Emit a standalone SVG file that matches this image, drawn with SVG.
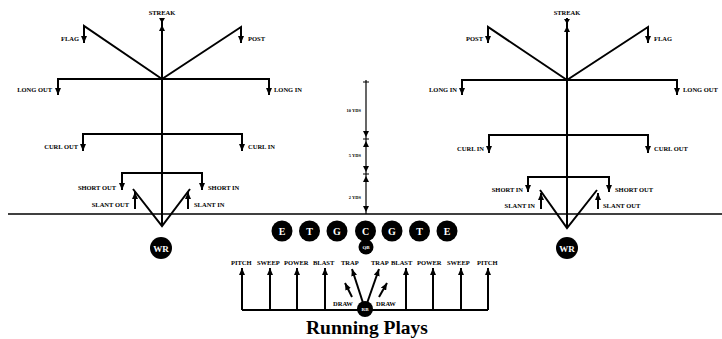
<svg xmlns="http://www.w3.org/2000/svg" width="722" height="339" viewBox="0 0 722 339">
<defs>
<marker id="ah" viewBox="0 0 7 6" refX="7" refY="3" markerWidth="7" markerHeight="6" markerUnits="userSpaceOnUse" orient="auto"><path d="M0,0 L7,3 L0,6 z" fill="#000"/></marker>
<marker id="sh" viewBox="0 0 5 4" refX="5" refY="2" markerWidth="5" markerHeight="4" markerUnits="userSpaceOnUse" orient="auto"><path d="M0,0 L5,2 L0,4 z" fill="#000"/></marker>
</defs>
<style>
.r{fill:none;stroke:#000;stroke-width:2}
.a{fill:none;stroke:#000;stroke-width:2;marker-end:url(#ah)}
.t{fill:none;stroke:#000;stroke-width:1.2}
.l{font-family:"Liberation Serif",serif;font-weight:bold;font-size:6.5px;fill:#000}
.e{text-anchor:end}
.m{text-anchor:middle}
.y{font-family:"Liberation Serif",serif;font-weight:bold;font-size:4.5px;fill:#000;text-anchor:end}
.p{fill:#000}
.w{font-family:"Liberation Serif",serif;font-weight:bold;fill:#fff;text-anchor:middle}
</style>
<rect width="722" height="339" fill="#fff"/>

<g id="scrimmage"><line x1="8" y1="214" x2="722" y2="214" stroke="#000" stroke-width="1.6"/></g>

<g id="connectors">
<!-- left route tree -->
<path class="r" d="M162,226 L162,18"/>
<polygon class="p" points="159,18 165,18 162,23"/>
<polygon class="p" points="162,25 159,31 165,31"/>
<path class="a" d="M162,79 L84,26 L84,43"/>
<path class="a" d="M162,79 L241,27 L241,43"/>
<path class="a" d="M162,79 L58,79 L58,95"/>
<path class="a" d="M162,79 L269,79 L269,95"/>
<path class="a" d="M162,134 L83,134 L83,151"/>
<path class="a" d="M162,134 L242,134 L242,151"/>
<path class="a" d="M162,173 L122,173 L122,190"/>
<path class="a" d="M162,173 L202,173 L202,190"/>
<path class="r" d="M133,189 L162,226 L190,189"/>
<path class="a" d="M135,209 L135,192"/>
<path class="a" d="M188,209 L188,192"/>
<!-- right route tree -->
<path class="r" d="M567,228 L567,18"/>
<polygon class="p" points="564,19 570,19 567,24"/>
<polygon class="p" points="567,26 564,32 570,32"/>
<path class="a" d="M567,80 L488,27 L488,43"/>
<path class="a" d="M567,80 L648,27 L648,43"/>
<path class="a" d="M567,80 L462,80 L462,95"/>
<path class="a" d="M567,80 L677,80 L677,95"/>
<path class="a" d="M567,135 L489,135 L489,153"/>
<path class="a" d="M567,135 L648,135 L648,153"/>
<path class="a" d="M567,177 L528,177 L528,192"/>
<path class="a" d="M567,177 L609,177 L609,192"/>
<path class="r" d="M540,190 L567,228 L597,190"/>
<path class="a" d="M541,209 L541,193"/>
<path class="a" d="M598,209 L598,193"/>
<!-- yardage line -->
<path class="t" d="M366,80 L366,214"/>
<path class="t" d="M363,82 L369,82 M363,139 L369,139 M363,174 L369,174"/>
<polygon class="p" points="363,131 369,131 366,137"/>
<polygon class="p" points="366,141 363,147 369,147"/>
<polygon class="p" points="363,166 369,166 366,172"/>
<polygon class="p" points="366,176 363,182 369,182"/>
<polygon class="p" points="363,206 369,206 366,212"/>
<!-- running plays -->
<path class="r" d="M242,310 L488,310"/>
<path class="a" d="M242,310 L242,268"/>
<path class="a" d="M270,310 L270,268"/>
<path class="a" d="M297,310 L297,268"/>
<path class="a" d="M325,310 L325,268"/>
<path class="a" d="M406,310 L406,268"/>
<path class="a" d="M433,310 L433,268"/>
<path class="a" d="M461,310 L461,268"/>
<path class="a" d="M488,310 L488,268"/>
<path class="a" d="M365,309 L352,269"/>
<path class="a" d="M365,309 L379,269"/>
<path class="a" d="M352,297 L345,283"/>
<path class="a" d="M379,297 L387,283"/>
</g>

<g id="left-labels">
<text class="l m" x="162" y="15">STREAK</text>
<text class="l e" x="79" y="41">FLAG</text>
<text class="l" x="248" y="41">POST</text>
<text class="l e" x="52" y="92">LONG OUT</text>
<text class="l" x="274" y="92">LONG IN</text>
<text class="l e" x="78" y="149">CURL OUT</text>
<text class="l" x="248" y="149">CURL IN</text>
<text class="l e" x="116" y="190">SHORT OUT</text>
<text class="l" x="208" y="190">SHORT IN</text>
<text class="l e" x="129" y="207">SLANT OUT</text>
<text class="l" x="194" y="207">SLANT IN</text>
</g>

<g id="right-labels">
<text class="l m" x="567" y="15">STREAK</text>
<text class="l e" x="483" y="41">POST</text>
<text class="l" x="654" y="41">FLAG</text>
<text class="l e" x="457" y="92">LONG IN</text>
<text class="l" x="683" y="92">LONG OUT</text>
<text class="l e" x="484" y="151">CURL IN</text>
<text class="l" x="654" y="151">CURL OUT</text>
<text class="l e" x="523" y="192">SHORT IN</text>
<text class="l" x="615" y="192">SHORT OUT</text>
<text class="l e" x="535" y="208">SLANT IN</text>
<text class="l" x="603" y="208">SLANT OUT</text>
</g>

<g id="yardage">
<text class="y" x="361" y="112">10 YDS</text>
<text class="y" x="361" y="157">5 YDS</text>
<text class="y" x="361" y="199">2 YDS</text>
</g>

<g id="wr-left"><circle cx="161" cy="248" r="11"/><text class="w" x="161" y="251.5" font-size="9">WR</text></g>
<g id="wr-right"><circle cx="567" cy="248" r="11"/><text class="w" x="567" y="251.5" font-size="9">WR</text></g>

<g id="line">
<g id="le"><circle cx="282" cy="231" r="10.5"/><text class="w" x="282" y="234.5" font-size="10">E</text></g>
<g id="lt"><circle cx="309.5" cy="231" r="10.5"/><text class="w" x="309.5" y="234.5" font-size="10">T</text></g>
<g id="lg"><circle cx="337" cy="231" r="10.5"/><text class="w" x="337" y="234.5" font-size="10">G</text></g>
<g id="c"><circle cx="365.5" cy="231" r="10.5"/><text class="w" x="365.5" y="234.5" font-size="10">C</text></g>
<g id="rg"><circle cx="392" cy="231" r="10.5"/><text class="w" x="392" y="234.5" font-size="10">G</text></g>
<g id="rt"><circle cx="419.5" cy="231" r="10.5"/><text class="w" x="419.5" y="234.5" font-size="10">T</text></g>
<g id="re"><circle cx="447" cy="231" r="10.5"/><text class="w" x="447" y="234.5" font-size="10">E</text></g>
</g>
<g id="qb"><circle cx="366" cy="247" r="7.5"/><text class="w" x="366" y="249" font-size="5">QB</text></g>

<g id="play-labels">
<text class="l" x="231" y="265">PITCH</text>
<text class="l" x="257" y="265">SWEEP</text>
<text class="l" x="284" y="265">POWER</text>
<text class="l" x="313" y="265">BLAST</text>
<text class="l" x="341" y="265">TRAP</text>
<text class="l" x="371" y="265">TRAP</text>
<text class="l" x="391" y="265">BLAST</text>
<text class="l" x="417" y="265">POWER</text>
<text class="l" x="447" y="265">SWEEP</text>
<text class="l" x="477" y="265">PITCH</text>
<text class="l" x="333" y="306">DRAW</text>
<text class="l" x="376" y="306">DRAW</text>
</g>
<g id="rb"><circle cx="365" cy="309" r="8"/><text class="w" x="365" y="311" font-size="5">RB</text></g>

<g id="title"><text x="367" y="334" font-family="Liberation Serif, serif" font-weight="bold" font-size="19.5" text-anchor="middle">Running Plays</text></g>
</svg>
